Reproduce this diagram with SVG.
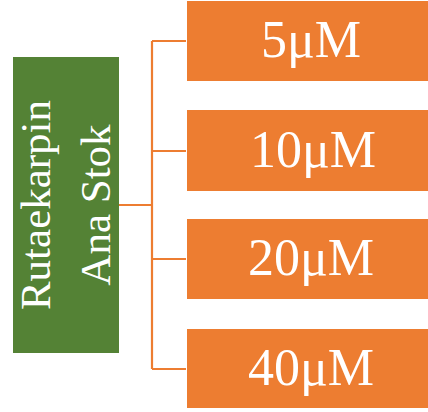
<svg xmlns="http://www.w3.org/2000/svg" width="428" height="412" viewBox="0 0 428 412">
  <style>
    .root { fill: #548235; }
    .leaf { fill: #ED7D31; }
    .txt { fill: #ffffff; font-family: "Liberation Serif", "Times New Roman", serif; }
    .rootTxt { font-size: 43px; text-anchor: middle; }
    .leafTxt { font-size: 52px; text-anchor: middle; }
    .conn { fill: none; stroke: #ED7D31; stroke-width: 2.2; }
  </style>
  <rect width="428" height="412" fill="#ffffff"/>

  <g id="connectors">
    <path class="conn" d="M119 205 H152"/>
    <path class="conn" d="M152 41 V369"/>
    <path class="conn" d="M152 41 H186"/>
    <path class="conn" d="M152 151 H186"/>
    <path class="conn" d="M152 259 H186"/>
    <path class="conn" d="M152 369 H186"/>
  </g>

  <g id="root">
    <rect class="root" x="13" y="57" width="106" height="296"/>
    <g transform="translate(66 205) rotate(-90)">
      <text class="txt rootTxt" x="0" y="-16">Rutaekarpin</text>
      <text class="txt rootTxt" x="0" y="44">Ana Stok</text>
    </g>
  </g>

  <g id="c5">
    <rect class="leaf" x="187" y="1" width="241" height="80"/>
    <text class="txt leafTxt" x="311" y="57">5μM</text>
  </g>
  <g id="c10">
    <rect class="leaf" x="187" y="110" width="241" height="81"/>
    <text class="txt leafTxt" x="313" y="167">10μM</text>
  </g>
  <g id="c20">
    <rect class="leaf" x="187" y="219" width="241" height="80"/>
    <text class="txt leafTxt" x="311" y="275">20μM</text>
  </g>
  <g id="c40">
    <rect class="leaf" x="187" y="329" width="241" height="79"/>
    <text class="txt leafTxt" x="311" y="385">40μM</text>
  </g>
</svg>
